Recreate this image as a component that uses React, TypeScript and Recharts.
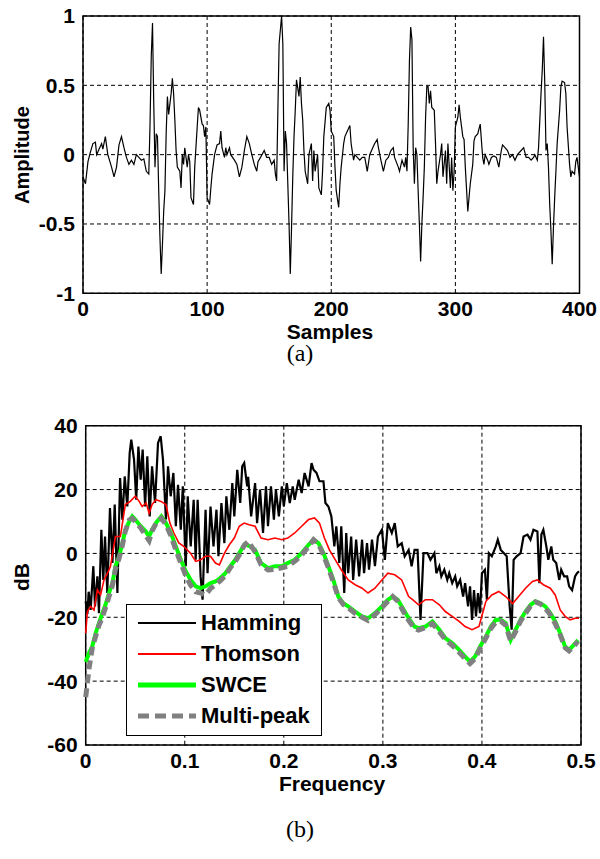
import React from 'react';
import { LineChart, Line, XAxis, YAxis, CartesianGrid, ReferenceArea } from 'recharts';

// (a) time signal
const sampleIdx = [
  0, 2, 4, 6, 8, 10, 11, 13, 15, 16, 18, 20, 23, 25, 27, 29, 31, 33, 35, 37, 39, 41, 43, 45, 47, 49, 51, 53, 54, 55, 56, 57, 58, 59, 60,
  61, 62, 63, 64, 65, 66, 67, 68, 69, 71, 72, 73, 74, 75, 76, 78, 79, 80, 81, 82, 84, 85, 86, 87, 89, 90, 92, 93, 94, 96, 97, 98, 99,
  100, 102, 103, 104, 106, 108, 110, 111, 112, 114, 115, 116, 118, 119, 122, 124, 126, 128, 130, 132, 134, 136, 138, 140, 141, 143,
  146, 148, 150, 152, 154, 155, 156, 157, 158, 160, 161, 162, 163, 164, 165, 166, 167, 168, 169, 170, 171, 172, 174, 175, 176, 177,
  178, 179, 181, 182, 184, 185, 186, 187, 189, 190, 192, 193, 194, 196, 198, 199, 200, 202, 203, 204, 206, 207, 208, 210, 211, 213,
  215, 216, 218, 219, 221, 223, 225, 227, 229, 231, 233, 235, 237, 238, 240, 242, 244, 246, 248, 250, 251, 254, 255, 257, 259, 260,
  261, 262, 263, 264, 265, 266, 267, 268, 269, 270, 271, 272, 273, 274, 275, 276, 277, 278, 279, 280, 281, 283, 284, 285, 286, 288,
  289, 290, 292, 293, 294, 296, 297, 298, 299, 300, 302, 303, 304, 306, 307, 308, 310, 311, 312, 314, 315, 316, 318, 320, 322, 323,
  324, 326, 327, 329, 331, 333, 335, 337, 338, 340, 342, 344, 346, 348, 350, 353, 355, 357, 359, 361, 363, 364, 366, 367, 369, 370,
  371, 372, 373, 374, 375, 376, 377, 378, 379, 380, 381, 382, 384, 385, 386, 388, 389, 390, 392, 393, 394, 396, 397, 398, 400,
];
const amplitude = [
  -0.16, -0.21, -0.05, 0.02, 0.08, 0.09, 0.0, 0.04, 0.08, 0.04, 0.13, 0.0, -0.09, -0.16, -0.09, 0.07, 0.13, 0.05, -0.02, -0.07, -0.04,
  -0.07, 0.0, -0.02, -0.04, -0.03, -0.12, -0.14, 0.22, 0.71, 0.95, 0.37, -0.09, 0.15, 0.13,
  -0.26, -0.6, -0.86, -0.65, -0.41, -0.26, 0.15, 0.42, 0.29, 0.44, 0.55, 0.44, 0.25, 0.03, -0.09, -0.12, -0.24, 0.0, -0.07, 0.05,
  -0.09, 0.0, -0.05, -0.31, -0.36, -0.09, 0.2, 0.34, 0.32, 0.22, 0.21, 0.13, 0.2,
  -0.31, -0.36, -0.24, -0.14, 0.0, 0.07, 0.08, 0.17, 0.05, -0.02, 0.05, 0.0, 0.05, 0.0, -0.04, -0.07, -0.16, -0.09, 0.03, 0.13, 0.08,
  0.0, -0.07, -0.12, -0.05, -0.02,
  0.03, -0.02, -0.02, -0.07, -0.04, -0.14, -0.19, 0.32, 0.8, 1.0, 0.8, -0.12, 0.17, 0.08, -0.21, -0.5, -0.86, -0.53, -0.16, 0.13,
  0.32, 0.54, 0.42, 0.56, 0.37, 0.25,
  0.03, -0.12, -0.21, 0.0, 0.08, -0.19, 0.03, -0.12, 0.0, -0.24, -0.29, -0.12, 0.13, 0.34, 0.37, 0.32, 0.17, 0.13, -0.09, -0.26,
  -0.38, -0.21, -0.09, 0.08, 0.13, 0.17,
  0.21, 0.08, -0.04, 0.0, -0.02, -0.04, -0.02, -0.02, -0.12, 0.0, 0.04, 0.08, 0.11, 0.05, -0.04, -0.12, -0.04, -0.02, 0.03, 0.05,
  -0.02, -0.09, -0.12, -0.04, -0.09, -0.02,
  -0.12, 0.22, 0.68, 0.92, 0.83, 0.05, -0.21, 0.05, 0.0, -0.26, -0.5, -0.77, -0.5, -0.31, -0.09, 0.27, 0.49, 0.49, 0.37, 0.46, 0.34,
  0.32, 0.08, -0.21, -0.12, 0.0,
  0.08, -0.16, 0.03, -0.21, 0.08, -0.24, -0.02, -0.26, -0.12, 0.2, 0.27, 0.36, 0.27, 0.13, 0.11, -0.09, -0.41, -0.31, -0.21, -0.07,
  0.1, 0.13, 0.15, 0.22, -0.02, -0.07,
  0.0, -0.04, -0.07, -0.02, -0.01, -0.02, -0.09, 0.03, 0.07, 0.05, 0.03, -0.02, 0.0, -0.04, 0.0, 0.03, 0.05, -0.02, -0.02, -0.04,
  -0.02, 0.0, -0.04, 0.05, 0.44, 0.61,
  0.85, 0.52, 0.03, 0.08, -0.09, -0.36, -0.55, -0.79, -0.53, -0.31, -0.12, 0.08, 0.32, 0.49, 0.53, 0.52, 0.44, 0.2, -0.07, -0.16,
  -0.12, -0.14, -0.05, -0.02, -0.16,
];

// (b) spectra
const hammingF = [
  0, 0.0017, 0.003, 0.005, 0.0077, 0.0094, 0.0118, 0.0134, 0.0158, 0.0178, 0.0195, 0.0218, 0.0245, 0.027, 0.0293, 0.032, 0.0347,
  0.037, 0.0394, 0.042, 0.0444, 0.046, 0.0488, 0.051, 0.0532, 0.0555, 0.0575, 0.06, 0.0622, 0.0646, 0.067, 0.07, 0.073, 0.0757,
  0.078, 0.081, 0.0831, 0.0858, 0.0885, 0.091, 0.0932, 0.096, 0.098, 0.101, 0.103, 0.106, 0.109, 0.111, 0.113, 0.116, 0.118, 0.121,
  0.123, 0.126, 0.129, 0.132, 0.134, 0.137, 0.14, 0.142, 0.145, 0.148, 0.15, 0.153, 0.156, 0.158, 0.16, 0.163, 0.164, 0.167, 0.171,
  0.173, 0.176, 0.179, 0.182, 0.184, 0.187, 0.19, 0.192, 0.195, 0.198, 0.2, 0.203, 0.206, 0.209, 0.211, 0.215, 0.218, 0.221, 0.225,
  0.228, 0.23, 0.233, 0.236, 0.24, 0.242, 0.245, 0.248, 0.251, 0.253, 0.256, 0.258, 0.261, 0.263, 0.265, 0.268, 0.27, 0.273, 0.276,
  0.279, 0.281, 0.284, 0.286, 0.289, 0.292, 0.295, 0.299, 0.302, 0.305, 0.309, 0.312, 0.315, 0.319, 0.322, 0.326, 0.329, 0.332,
  0.335, 0.338, 0.341, 0.345, 0.348, 0.352, 0.354, 0.357, 0.359, 0.362, 0.365, 0.367, 0.37, 0.373, 0.375, 0.378, 0.381, 0.383,
  0.386, 0.388, 0.39, 0.392, 0.394, 0.396, 0.398, 0.4, 0.403, 0.405, 0.407, 0.41, 0.414, 0.416, 0.419, 0.422, 0.425, 0.428, 0.43,
  0.432, 0.435, 0.439, 0.442, 0.446, 0.449, 0.452, 0.456, 0.458, 0.46, 0.462, 0.465, 0.467, 0.47, 0.472, 0.475, 0.478, 0.48, 0.483,
  0.486, 0.488, 0.491, 0.494, 0.496, 0.498,
];
const hammingDb = [
  -15, -19, -12, -17.7, -4, -16.6, -7.2, -18.7, 7.4, -8.3, 5.3, -12.4, 14.2, -3, 15.3, -12.4, 23.6,
  10.6, 24.1, 14.7, 31.5, 35.6, 29.4, 16.8, 33.5, 23.1, 32.5, 14.7, 30.4, 11.6, 27.3, 15.8, 34.6, 36.7,
  29.4, 10.6, 27.3, 17.9, 25.2, 8.5, 21.5, 7.4, 21, -4, 17.9, 2.2, 16.8, -2, 16.8, -7.2, -14.5, 13.7,
  -6.2, 14.7, 2.2, 13.7, -0.9, 15.8, 3.2, 17.9, 7.4, 22, 11.6, 26.2, 15.8, 27.3, 28.3, 21, 24, 11.6, 22,
  9.5, 20, 6.4, 21, 8.5, 21, 10.6, 20, 11.6, 21, 14.7, 22, 15.8, 21, 16.8, 23.1, 18.9, 25.2, 21,
  28.3, 26.2, 25.2, 22.6, 22.6, 15.8, 14.7, 11.6, 2.2, 8.5, -3, 8.5, -12.4, 6.4, -6.2, 5.3, -8.3, 4.3, -7.2,
  4.3, -6.2, 3.2, -5.1, 4.3, -4, 5.3, 7.4, -2, 9.5, 6.4, 9.5, 2.2, 3.2, -0.9, 1.1, -4, 1.1,
  1.1, -20.8, 0.1, 0.1, -2, 0.1, -6.2, -4, -7.2, -5.1, -8.3, -6.2, -9.3, -7.2, -10.3, -8.3, -13.5, -9.3,
  -16.6, -10.3, -20.8, -11.5, -19.7, -12.4, -18.7, -6.2, -5.1, -14.5, 0.1, -0.9, 2.2, 4.3, 1.1, 0.1, -0.9, -16.6, -23.9,
  -2, -0.9, 0.1, 5.3, 5.9, 4.3, 7.4, 6.9, -9.3, 5.9, 7.4, 2.2, -2, 2.2, -2, -3, -8.3, -5.1, -7.2,
  -7.2, -10.3, -11.5, -7.2, -6.2, -5.6,
];

const thomsonF = [
  0, 0.0017, 0.005, 0.0084, 0.0118, 0.015, 0.0185, 0.022, 0.025, 0.03, 0.035, 0.04, 0.045, 0.05, 0.054, 0.057, 0.061, 0.064, 0.067,
  0.071, 0.076, 0.081, 0.085, 0.089, 0.094, 0.099, 0.106, 0.111, 0.116, 0.121, 0.126, 0.131, 0.135, 0.14, 0.145, 0.15, 0.155, 0.16,
  0.165, 0.171, 0.177, 0.184, 0.191, 0.198, 0.204, 0.211, 0.218, 0.225, 0.231, 0.236, 0.241, 0.246, 0.252, 0.258, 0.265, 0.272,
  0.279, 0.285, 0.292, 0.299, 0.305, 0.312, 0.319, 0.326, 0.33, 0.336, 0.343, 0.35, 0.357, 0.363, 0.37, 0.377, 0.383, 0.39, 0.397,
  0.404, 0.41, 0.417, 0.424, 0.431, 0.437, 0.444, 0.451, 0.456, 0.462, 0.469, 0.474, 0.479, 0.484, 0.489, 0.494, 0.498,
];
const thomsonDb = [
  -25, -18.2, -16.6, -17.7, -11.4, -13, -8.3, -6.2, -4, 5.3, 5.3, 15.3, 16.3, 17.9, 16.3, 14.7, 15.8, 12.6, 15.3,
  16.8, 16.3, 15.3, 9.5, 6.4, 3.3, 2.2, 0, -2.5, -2, -0.9, -0.9, -3, -3.6, 0, 2.7, 4.8, 8.5, 9.5,
  9, 8.5, 4.8, 4.3, 4.8, 4.3, 4.8, 6.4, 8.5, 10.6, 11.1, 9.5, 4.8, 1.1, -2, -5.1, -8.3, -9.8,
  -10.9, -12.4, -10.9, -8.3, -6.2, -6.7, -8.3, -13.5, -14.5, -16.1, -14.5, -14.5, -16.1, -18.2, -19.7, -21.3, -22.9, -23.9, -22.9,
  -15, -13, -11.9, -13.5, -15.7, -13.5, -10.9, -8.8, -8.3, -9.8, -10.9, -13, -17.7, -19.7, -20.8, -20.3, -20.3,
];

const swceF = [
  0, 0.0034, 0.0067, 0.01, 0.0134, 0.0168, 0.02, 0.0235, 0.027, 0.03, 0.0337, 0.037, 0.04, 0.044, 0.047, 0.05, 0.0555, 0.0606,
  0.064, 0.067, 0.072, 0.0764, 0.081, 0.086, 0.091, 0.096, 0.101, 0.106, 0.111, 0.116, 0.121, 0.126, 0.131, 0.136, 0.141, 0.146,
  0.151, 0.156, 0.16, 0.164, 0.171, 0.177, 0.184, 0.191, 0.198, 0.204, 0.211, 0.218, 0.225, 0.23, 0.235, 0.24, 0.245, 0.25, 0.255,
  0.26, 0.265, 0.272, 0.279, 0.285, 0.292, 0.299, 0.305, 0.31, 0.315, 0.32, 0.326, 0.332, 0.336, 0.343, 0.35, 0.357, 0.363, 0.37,
  0.377, 0.383, 0.388, 0.393, 0.398, 0.404, 0.409, 0.414, 0.419, 0.424, 0.429, 0.434, 0.439, 0.444, 0.449, 0.454, 0.459, 0.464,
  0.469, 0.474, 0.479, 0.484, 0.488, 0.493, 0.497,
];
const swceDb = [
  -34, -31.2, -29, -25, -21.8, -18.7, -16.1, -12.4, -9.3, -4, -0.9, 3.2, 7.4, 10, 11.6, 10.6, 8.5, 6.9,
  5.3, 7.4, 10, 11.6, 9.5, 6.4, 2.2, -2, -5.6, -8.3, -10.3, -10.9, -10.3, -9.3, -8.8, -7.7, -6.2, -4,
  -2, 0.6, 2.7, 2.5, 1.1, -3, -4.6, -4, -4, -3, -2, 0.1, 2.7, 4.3, 3.2, 0.1, -4, -8.3, -13.5,
  -15.6, -16.6, -18.2, -19.7, -20.3, -18.7, -16.6, -14.5, -13.5, -14.5, -17.1, -20.3, -22.9, -23.4, -22.9, -21.3, -23.9, -26.5, -28.1,
  -30.2, -32.3, -33.9, -32.3, -29.2, -26, -22.9, -20.8, -20.8, -21.8, -27.1, -23.9, -20.8, -18.2, -16.1, -15, -15.6, -16.6,
  -18.7, -21.3, -25, -29.2, -30.2, -28.6, -27.1,
];

const multiPeakF = [
  0, 0.0034, 0.0067, 0.01, 0.0134, 0.0168, 0.02, 0.0235, 0.027, 0.03, 0.0337, 0.037, 0.04, 0.044, 0.047, 0.05, 0.0555, 0.0606,
  0.064, 0.067, 0.072, 0.0764, 0.081, 0.086, 0.091, 0.096, 0.101, 0.106, 0.111, 0.116, 0.121, 0.126, 0.131, 0.136, 0.141, 0.146,
  0.151, 0.156, 0.16, 0.164, 0.171, 0.177, 0.184, 0.191, 0.198, 0.204, 0.211, 0.218, 0.225, 0.23, 0.235, 0.24, 0.245, 0.25, 0.255,
  0.26, 0.265, 0.272, 0.279, 0.285, 0.292, 0.299, 0.305, 0.31, 0.315, 0.32, 0.326, 0.332, 0.336, 0.343, 0.35, 0.357, 0.363, 0.37,
  0.377, 0.383, 0.388, 0.393, 0.398, 0.404, 0.409, 0.414, 0.419, 0.424, 0.429, 0.434, 0.439, 0.444, 0.449, 0.454, 0.459, 0.464,
  0.469, 0.474, 0.479, 0.484, 0.488, 0.493, 0.497,
];
const multiPeakDb = [
  -45, -36, -29.5, -26, -22.5, -20, -17, -13.5, -10, -5, -1.5, 2.5, 7, 10.5, 11, 10, 8, 5.5,
  4, 7, 10, 11, 9, 5.5, 1, -3, -7, -10, -12, -12.4, -13, -11, -9.8, -8.5, -7, -4.5,
  -2.5, 0, 2.5, 3.8, 0.5, -3.5, -5.2, -5, -4.5, -4, -2.5, -0.5, 2.2, 4.3, 3, -0.5, -4.5, -9, -13.8,
  -16, -17, -18.8, -20, -21, -19.2, -17, -15, -13.5, -15, -17.8, -21, -23.5, -24, -23.2, -22, -24.5, -27, -28.8,
  -31, -33, -34.5, -33, -29.8, -26.5, -23.5, -21.5, -21.2, -22.5, -27.5, -24.5, -21.2, -18.8, -16.5, -15.2, -15.8, -17.2,
  -19.2, -22, -25.5, -29.5, -30.5, -29, -27.5,
];

const signalData = sampleIdx.map((s, i) => ({ s, a: amplitude[i] }));
const hammingData = hammingF.map((f, i) => ({ f, db: hammingDb[i] }));
const thomsonData = thomsonF.map((f, i) => ({ f, db: thomsonDb[i] }));
const swceData = swceF.map((f, i) => ({ f, db: swceDb[i] }));
const multiPeakData = multiPeakF.map((f, i) => ({ f, db: multiPeakDb[i] }));

const sansBold = "'Liberation Sans', Arial, sans-serif";
const tickStyle = { fontSize: 21, fontWeight: 700, fill: '#000', fontFamily: sansBold };
const gridDash = '4 3';

const legendItems = [
  { name: 'Hamming', color: '#000000', width: 2, dash: undefined },
  { name: 'Thomson', color: '#ff0000', width: 2, dash: undefined },
  { name: 'SWCE', color: '#00ff00', width: 5, dash: undefined },
  { name: 'Multi-peak', color: '#808080', width: 5, dash: '11 6' },
];

function Caption({ x, y, text, rotate = 0, serif = false, size = 21 }: { x: number; y: number; text: string; rotate?: number; serif?: boolean; size?: number }) {
  return (
    <div
      style={{
        position: 'absolute',
        left: x,
        top: y,
        transform: `translate(-50%, -50%) rotate(${rotate}deg)`,
        fontFamily: serif ? "'Liberation Serif', 'Times New Roman', serif" : sansBold,
        fontWeight: serif ? 400 : 700,
        fontSize: size,
        whiteSpace: 'nowrap',
        lineHeight: 1,
      }}
    >
      {text}
    </div>
  );
}

export default function App() {
  return (
    <div style={{ position: 'absolute', left: 0, top: 0, width: 600, height: 859, background: '#fff', overflow: 'hidden' }}>
      <div style={{ position: 'absolute', left: 0, top: 0 }}>
        <LineChart width={600} height={340} data={signalData} margin={{ top: 16, right: 20.5, left: 23, bottom: 16.7 }}>
          <CartesianGrid stroke="#000" strokeDasharray={gridDash} strokeWidth={1} />
          <XAxis
            dataKey="s"
            type="number"
            domain={[0, 400]}
            ticks={[0, 100, 200, 300, 400]}
            tick={tickStyle}
            tickLine={false}
            axisLine={false}
            height={30}
            interval={0}
          />
          <YAxis
            type="number"
            domain={[-1, 1]}
            ticks={[-1, -0.5, 0, 0.5, 1]}
            tick={tickStyle}
            tickLine={false}
            axisLine={false}
            width={60}
            interval={0}
          />
          <Line dataKey="a" type="linear" stroke="#000" strokeWidth={1.2} dot={false} isAnimationActive={false} />
          <ReferenceArea x1={0} x2={400} y1={-1} y2={1} fill="none" fillOpacity={0} stroke="#000" strokeWidth={1.5} />
        </LineChart>
      </div>
      <Caption x={22} y={155} text="Amplitude" rotate={-90} size={20} />
      <Caption x={330} y={331} text="Samples" />
      <Caption x={300} y={353} text="(a)" serif size={24} />

      <div style={{ position: 'absolute', left: 0, top: 400 }}>
        <LineChart width={600} height={400} margin={{ top: 25.7, right: 19, left: 25.7, bottom: 25 }}>
          <CartesianGrid stroke="#000" strokeDasharray={gridDash} strokeWidth={1} />
          <XAxis
            dataKey="f"
            type="number"
            domain={[0, 0.5]}
            ticks={[0, 0.1, 0.2, 0.3, 0.4, 0.5]}
            tick={tickStyle}
            tickLine={false}
            axisLine={false}
            height={30}
            interval={0}
            allowDuplicatedCategory={false}
          />
          <YAxis
            type="number"
            domain={[-60, 40]}
            ticks={[-60, -40, -20, 0, 20, 40]}
            tick={tickStyle}
            tickLine={false}
            axisLine={false}
            width={60}
            interval={0}
          />
          <Line data={hammingData} dataKey="db" type="linear" stroke="#000" strokeWidth={2.2} dot={false} isAnimationActive={false} />
          <Line data={thomsonData} dataKey="db" type="linear" stroke="#ff0000" strokeWidth={1.6} dot={false} isAnimationActive={false} />
          <Line data={swceData} dataKey="db" type="linear" stroke="#00ff00" strokeWidth={4} dot={false} isAnimationActive={false} />
          <Line
            data={multiPeakData}
            dataKey="db"
            type="linear"
            stroke="#808080"
            strokeWidth={5}
            strokeDasharray="9 5"
            dot={false}
            isAnimationActive={false}
          />
          <ReferenceArea x1={0} x2={0.5} y1={-60} y2={40} fill="none" fillOpacity={0} stroke="#000" strokeWidth={1.5} />
        </LineChart>
      </div>

      <div
        style={{
          position: 'absolute',
          left: 126,
          top: 604,
          width: 196,
          height: 132,
          boxSizing: 'border-box',
          border: '1.5px solid #000',
          background: '#fff',
        }}
      >
        {legendItems.map((item, i) => (
          <div key={item.name} style={{ position: 'absolute', left: 0, top: 4 + i * 31, height: 28, display: 'flex', alignItems: 'center' }}>
            <svg width={80} height={28} style={{ display: 'block' }}>
              <line x1={11} x2={69} y1={14} y2={14} stroke={item.color} strokeWidth={item.width} strokeDasharray={item.dash} />
            </svg>
            <span style={{ fontFamily: sansBold, fontWeight: 700, fontSize: 22, marginLeft: -6 }}>{item.name}</span>
          </div>
        ))}
      </div>
      <Caption x={21} y={577} text="dB" rotate={-90} />
      <Caption x={332} y={783} text="Frequency" />
      <Caption x={300} y={829} text="(b)" serif size={24} />
    </div>
  );
}
